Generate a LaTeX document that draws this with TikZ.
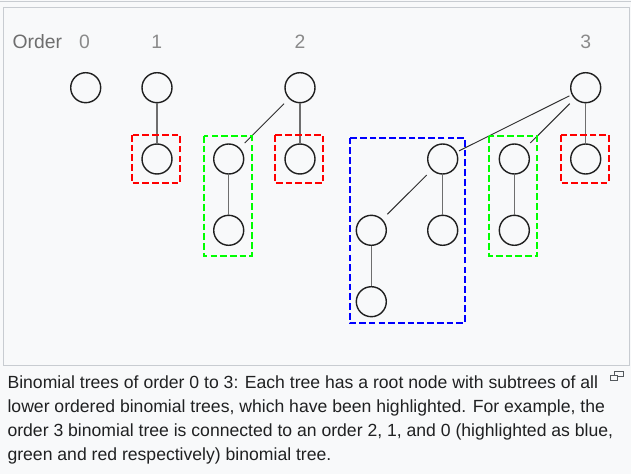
\documentclass[tikz,border=0pt]{standalone}
\usepackage{fontspec}
\setmainfont{Liberation Sans}
\definecolor{bggray}{HTML}{F8F9FA}
\definecolor{frame}{HTML}{C8CCD1}
\definecolor{ordgray}{HTML}{8A8A8A}
\definecolor{ordword}{HTML}{6E6E6E}
\definecolor{captext}{HTML}{202122}
\definecolor{iconcol}{HTML}{54595D}
\definecolor{vline}{HTML}{6E6E6E}
\definecolor{hred}{HTML}{FF0000}
\definecolor{hgreen}{HTML}{00FF00}
\definecolor{hblue}{HTML}{0000FF}
\begin{document}
\begin{tikzpicture}[x=0.75pt,y=-0.75pt,
  bnode/.style={circle,draw=black!88,line width=1.05pt,minimum size=22.5pt,inner sep=0pt},
  vedge/.style={draw=vline,line width=1.1pt},
  dedge/.style={draw=black!82,line width=0.7pt,shorten <=5.2pt,shorten >=5.2pt},
  dedgeshort/.style={draw=black!82,line width=0.7pt,shorten <=1.9pt,shorten >=1.9pt},
  hbox/.style={line width=1.25pt,dash pattern=on 5pt off 2.3pt},
  ordlbl/.style={text=ordgray,font=\fontsize{14.5}{17}\selectfont,anchor=base,inner sep=0pt},
  captxt/.style={text=captext,font=\fontsize{13.2}{18}\selectfont,anchor=base west,inner sep=0pt}
]
% background and frames
\fill[bggray] (0,0) rectangle (631,474);
\useasboundingbox (0,0) rectangle (631,474);
\draw[frame,line width=0.75pt] (0,2) -- (631,2);
\draw[frame,line width=0.75pt] (3.5,7.5) rectangle (629,365);

% order labels
\node[text=ordword,font=\fontsize{14.5}{17}\selectfont,anchor=base west,inner sep=0pt] (lorder) at (12.3,49) {Order};
\node[ordlbl] (l0) at (84.5,49) {0};
\node[ordlbl] (l1) at (156.7,49) {1};
\node[ordlbl] (l2) at (300,49) {2};
\node[ordlbl] (l3) at (585.7,49) {3};

% order 0
\node[bnode] (a0) at (85.7,87.7) {};
% order 1
\node[bnode] (b0) at (157,87.7) {};
\node[bnode] (b1) at (157,159) {};
% order 2
\node[bnode] (c0) at (300,87.7) {};
\node[bnode] (c1) at (228.7,159) {};
\node[bnode] (c2) at (228.7,230.3) {};
\node[bnode] (c3) at (300,159) {};
% order 3
\node[bnode] (d0) at (585.7,87.7) {};
\node[bnode] (d1) at (442.7,159) {};
\node[bnode] (d2) at (371.3,230.3) {};
\node[bnode] (d3) at (371.3,301.7) {};
\node[bnode] (d4) at (442.7,230.3) {};
\node[bnode] (d5) at (514.3,159) {};
\node[bnode] (d6) at (514.3,230.3) {};
\node[bnode] (d7) at (585.7,159) {};

% edges
\draw[vedge] (b0) -- (b1);
\draw[dedge] (c0) -- (c1);
\draw[vedge] (c1) -- (c2);
\draw[vedge] (c0) -- (c3);
\draw[dedgeshort] (d0) -- (d1);
\draw[dedge] (d0) -- (d5);
\draw[vedge] (d0) -- (d7);
\draw[dedge] (d1) -- (d2);
\draw[vedge] (d2) -- (d3);
\draw[vedge] (d1) -- (d4);
\draw[vedge] (d5) -- (d6);

% highlight boxes
\draw[hbox,hred] (131.7,135) rectangle (180.3,182.7);
\draw[hbox,hgreen] (204,136) rectangle (251.7,256);
\draw[hbox,hred] (275,135) rectangle (323.3,182.7);
\draw[hbox,hblue] (350,137.7) rectangle (464.7,323.3);
\draw[hbox,hgreen] (489.3,136) rectangle (537.3,256);
\draw[hbox,hred] (560.7,135) rectangle (608.7,182.7);

% caption
\node[captxt] (cap1) at (7.3,388.3) {Binomial trees of order 0 to 3: Each tree has a root node with subtrees of all};
\node[captxt] (cap2) at (7.3,412.3) {lower ordered binomial trees, which have been highlighted. For example, the};
\node[captxt] (cap3) at (7.3,436.3) {order 3 binomial tree is connected to an order 2, 1, and 0 (highlighted as blue,};
\node[captxt] (cap4) at (7.3,460.3) {green and red respectively) binomial tree.};

% enlarge icon
\draw[iconcol,line width=0.75pt] (614.5,371.5) rectangle (623,376.5);
\fill[bggray] (610.5,375) rectangle (617.5,380);
\draw[iconcol,line width=0.75pt] (610.5,375) rectangle (617.5,380);
\end{tikzpicture}
\end{document}
